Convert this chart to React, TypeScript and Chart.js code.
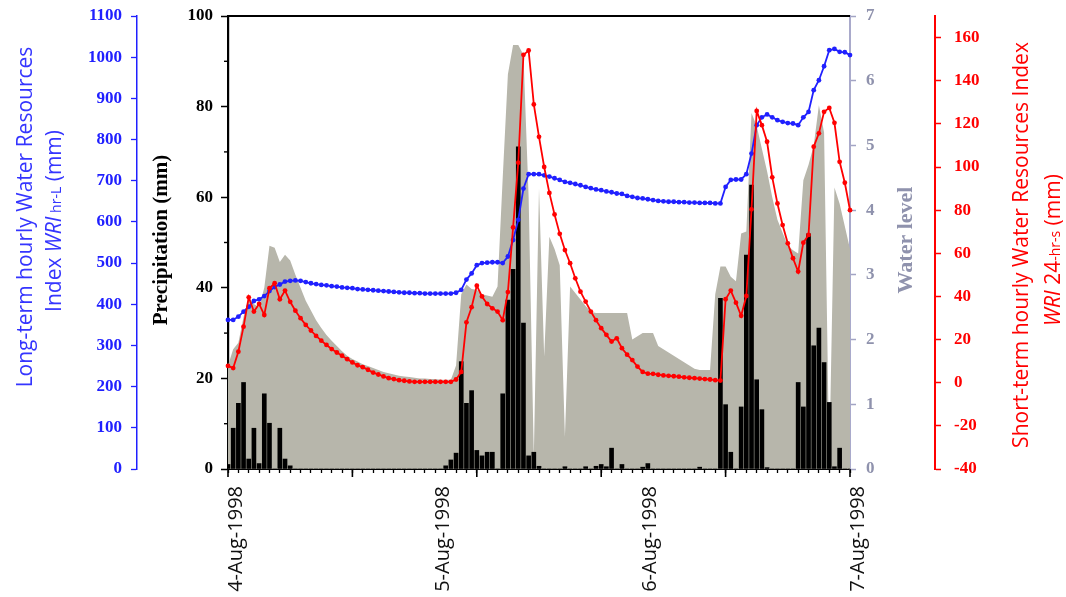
import React, { useEffect, useRef } from 'react';
import { Chart, registerables } from 'chart.js';

Chart.register(...registerables);

// time index (data step), 121 samples from 4-Aug-1998 to 7-Aug-1998
const timeIndex: number[] = Array.from({ length: 121 }, (_, i) => i);

const dateLabels = ['4-Aug-1998', '5-Aug-1998', '6-Aug-1998', '7-Aug-1998'];
const dateTickPositions = [0, 40, 80, 120];

// Precipitation (mm)
const precipitation = [
  1.0, 9.0, 14.5, 19.1, 2.2, 9.0, 1.2, 16.6, 10.1, 0, // 0-9
  9.0, 2.2, 0.7, 0, 0, 0, 0, 0, 0, 0, // 10-19
  0, 0, 0, 0, 0, 0, 0, 0, 0, 0, // 20-29
  0, 0, 0, 0, 0, 0, 0, 0, 0, 0, // 30-39
  0, 0, 0.7, 2.0, 3.5, 23.7, 14.5, 17.3, 4.1, 2.9, // 40-49
  3.7, 3.7, 0, 16.6, 37.3, 44.1, 71.1, 32.2, 2.9, 3.7, // 50-59
  0.6, 0, 0, 0, 0, 0.5, 0, 0, 0, 0.5, // 60-69
  0, 0.6, 1.0, 0.5, 4.6, 0, 1.0, 0, 0, 0, // 70-79
  0.4, 1.2, 0, 0, 0, 0, 0, 0, 0, 0, // 80-89
  0, 0.4, 0, 0, 0, 37.7, 14.2, 3.7, 0, 13.7, // 90-99
  47.2, 62.7, 19.7, 13.1, 0.3, 0, 0, 0, 0, 0, // 100-109
  19.1, 13.7, 51.9, 27.2, 31.1, 23.5, 14.7, 0.5, 4.6, 0, // 110-119
  0, // 120
];

// Water level
const waterLevel = [
  1.6, 1.85, 1.95, 2.35, 2.65, 2.55, 2.5, 2.8, 3.45, 3.42, // 0-9
  3.2, 3.31, 3.22, 3.0, 2.8, 2.6, 2.45, 2.3, 2.18, 2.07, // 10-19
  1.98, 1.9, 1.82, 1.75, 1.7, 1.66, 1.62, 1.59, 1.56, 1.53, // 20-29
  1.5, 1.48, 1.46, 1.44, 1.43, 1.42, 1.41, 1.4, 1.4, 1.39, // 30-39
  1.39, 1.38, 1.38, 1.38, 1.6, 2.7, 2.85, 2.78, 2.77, 2.7, // 40-49
  2.68, 2.66, 2.82, 4.5, 6.1, 6.55, 6.55, 6.4, 4.2, 0.2, // 50-59
  4.34, 1.74, 3.59, 3.4, 3.15, 0.5, 2.82, 2.72, 2.62, 2.52, // 60-69
  2.43, 2.41, 2.41, 2.41, 2.41, 2.41, 2.41, 2.41, 2.0, 2.05, // 70-79
  2.1, 2.1, 2.1, 1.9, 1.85, 1.8, 1.75, 1.7, 1.65, 1.6, // 80-89
  1.55, 1.53, 1.53, 1.53, 2.7, 3.13, 3.13, 2.97, 2.9, 3.64, // 90-99
  3.67, 5.5, 5.3, 4.95, 4.6, 4.2, 3.85, 3.65, 3.45, 3.38, // 100-109
  3.33, 4.46, 4.7, 5.0, 5.62, 5.2, 0.1, 4.35, 4.1, 3.75, // 110-119
  3.4, // 120
];

// Long-term hourly WRI hr-L (mm)
const wriLong = [
  362, 362, 370, 382, 394, 408, 412, 420, 432, 442, // 0-9
  448, 455, 457, 458, 457, 454, 451, 449, 447, 446, // 10-19
  444, 443, 441, 440, 439, 437, 436, 435, 434, 433, // 20-29
  432, 431, 430, 429, 428, 428, 427, 427, 426, 426, // 30-39
  426, 426, 426, 426, 428, 435, 460, 475, 495, 500, // 40-49
  501, 502, 502, 500, 516, 556, 605, 681, 716, 716, // 50-59
  716, 713, 710, 706, 702, 697, 695, 692, 689, 685, // 60-69
  682, 679, 677, 674, 672, 669, 668, 663, 661, 658, // 70-79
  657, 655, 653, 651, 650, 649, 649, 648, 648, 647, // 80-89
  647, 646, 646, 646, 645, 645, 685, 702, 703, 703, // 90-99
  716, 766, 835, 854, 861, 854, 847, 843, 840, 839, // 100-109
  835, 854, 867, 920, 944, 978, 1017, 1020, 1013, 1012, // 110-119
  1005, // 120
];

// Short-term hourly WRI 24-hr-s (mm)
const wriShort = [
  7.8, 6.8, 14.4, 26.0, 39.6, 33.0, 36.5, 31.4, 43.8, 46.1, // 0-9
  38.7, 42.7, 37.5, 33.4, 29.9, 26.8, 24.2, 21.7, 19.5, 17.5, // 10-19
  15.6, 14.0, 12.5, 10.9, 9.4, 8.1, 7.2, 6.0, 4.7, 3.8, // 20-29
  2.9, 2.1, 1.7, 1.2, 0.9, 0.6, 0.4, 0.4, 0.4, 0.4, // 30-39
  0.4, 0.4, 0.4, 0.4, 1.5, 5.0, 28.0, 35.0, 45.0, 40.0, // 40-49
  36.5, 34.5, 33.0, 29.0, 42.0, 72.0, 102.0, 152.0, 154.0, 129.0, // 50-59
  114.0, 100.0, 88.0, 78.0, 69.0, 61.5, 55.4, 48.4, 42.2, 37.6, // 60-69
  33.0, 29.0, 25.3, 22.2, 19.1, 20.6, 16.0, 13.0, 10.5, 7.5, // 70-79
  5.0, 4.2, 4.1, 3.7, 3.4, 3.2, 3.0, 2.8, 2.5, 2.3, // 80-89
  2.1, 1.9, 1.7, 1.5, 1.2, 1.0, 38.7, 42.7, 37.1, 31.0, // 90-99
  40.2, 80.4, 126.0, 119.4, 111.7, 95.2, 83.1, 73.1, 64.6, 57.7, // 100-109
  51.5, 64.9, 68.5, 109.4, 115.6, 125.6, 127.4, 120.5, 102.4, 92.7, // 110-119
  80.0, // 120
];

const BLUE = '#2020ff';
const RED = '#ff0000';
const WL_COLOR = '#8f92ad';
const GRAY_FILL = '#b7b6ab';
const SERIF = '"Liberation Serif", "Times New Roman", serif';
const SANS = '"Open Sans", "Noto Sans", sans-serif';

type Seg = { text: string; font: string };

function drawVertical(ctx: CanvasRenderingContext2D, segs: Seg[], cx: number, cy: number, color: string, baseShift: number) {
  ctx.save();
  ctx.fillStyle = color;
  ctx.textBaseline = 'alphabetic';
  ctx.textAlign = 'left';
  let total = 0;
  const widths = segs.map((s) => {
    ctx.font = s.font;
    const w = ctx.measureText(s.text).width;
    total += w;
    return w;
  });
  ctx.translate(cx, cy);
  ctx.rotate(-Math.PI / 2);
  let x = -total / 2;
  segs.forEach((s, i) => {
    ctx.font = s.font;
    ctx.fillText(s.text, x, baseShift);
    x += widths[i];
  });
  ctx.restore();
}

const decorPlugin = {
  id: 'decor',
  afterDraw(chart: any) {
    const ctx: CanvasRenderingContext2D = chart.ctx;
    const ca = chart.chartArea;
    const { x, yP } = chart.scales;
    ctx.save();
    // top frame
    ctx.strokeStyle = '#000';
    ctx.lineWidth = 2;
    ctx.beginPath();
    ctx.moveTo(ca.left - 1, ca.top);
    ctx.lineTo(ca.right, ca.top);
    ctx.stroke();
    // major x ticks
    ctx.lineWidth = 1.6;
    for (let v = 0; v <= 120; v += 24) {
      const px = x.getPixelForValue(v);
      ctx.beginPath();
      ctx.moveTo(px, ca.bottom);
      ctx.lineTo(px, ca.bottom + 8);
      ctx.stroke();
    }
    // precipitation minor ticks
    ctx.lineWidth = 1.4;
    for (let v = 10; v < 100; v += 20) {
      const py = yP.getPixelForValue(v);
      ctx.beginPath();
      ctx.moveTo(yP.right - 4, py);
      ctx.lineTo(yP.right, py);
      ctx.stroke();
    }
    ctx.restore();

    const f21 = `21px ${SANS}`;
    const f21i = `italic 21px ${SANS}`;
    const f14 = `14px ${SANS}`;
    // left blue title
    drawVertical(ctx, [{ text: 'Long-term hourly Water Resources', font: f21 }], 25, 217, '#3535ff', 7);
    drawVertical(
      ctx,
      [
        { text: 'Index ', font: f21 },
        { text: 'WRI', font: f21i },
        { text: ' hr-L', font: f14 },
        { text: ' (mm)', font: f21 },
      ],
      54,
      221,
      '#3535ff',
      7
    );
    // precipitation title
    drawVertical(ctx, [{ text: 'Precipitation (mm)', font: `bold 21px ${SERIF}` }], 160, 240, '#000', 7);
    // water level title
    drawVertical(ctx, [{ text: 'Water level', font: `bold 22px ${SERIF}` }], 905, 240, WL_COLOR, 7);
    // right red title
    drawVertical(ctx, [{ text: 'Short-term hourly Water Resources Index', font: f21 }], 1021, 245, RED, 7);
    drawVertical(
      ctx,
      [
        { text: 'WRI', font: f21i },
        { text: ' 24', font: f21 },
        { text: '-hr-s', font: f14 },
        { text: ' (mm)', font: f21 },
      ],
      1053,
      250,
      RED,
      7
    );
  },
};

const noPadV = (w: number) => (s: any) => {
  s.width = w;
  s.paddingTop = 0;
  s.paddingBottom = 0;
};

export default function App() {
  const ref = useRef<HTMLCanvasElement>(null);

  useEffect(() => {
    if (!ref.current) return;
    const chart = new Chart(ref.current, {
      type: 'line',
      data: {
        labels: timeIndex,
        datasets: [
          {
            type: 'line',
            label: 'Short-term WRI',
            data: wriShort,
            yAxisID: 'yR',
            borderColor: RED,
            backgroundColor: RED,
            borderWidth: 1.8,
            pointRadius: 2.4,
            pointBorderWidth: 0,
            pointBackgroundColor: RED,
            tension: 0,
            fill: false,
            order: 1,
            clip: false,
          },
          {
            type: 'line',
            label: 'Long-term WRI',
            data: wriLong,
            yAxisID: 'yB',
            borderColor: BLUE,
            backgroundColor: BLUE,
            borderWidth: 1.8,
            pointRadius: 2.4,
            pointBorderWidth: 0,
            pointBackgroundColor: BLUE,
            tension: 0,
            fill: false,
            order: 2,
            clip: false,
          },
          {
            type: 'bar',
            label: 'Precipitation',
            data: precipitation,
            yAxisID: 'yP',
            backgroundColor: '#000',
            borderWidth: 0,
            barThickness: 4,
            order: 3,
          },
          {
            type: 'line',
            label: 'Water level',
            data: waterLevel,
            yAxisID: 'yW',
            borderColor: GRAY_FILL,
            backgroundColor: GRAY_FILL,
            borderWidth: 0,
            pointRadius: 0,
            tension: 0,
            fill: 'origin',
            order: 4,
          },
        ] as any,
      },
      options: {
        responsive: false,
        devicePixelRatio: 1,
        animation: false,
        layout: { padding: { top: 16, left: 0, right: 0, bottom: 0 } },
        plugins: {
          legend: { display: false },
          tooltip: { enabled: false },
          title: { display: false },
        },
        scales: {
          x: {
            type: 'linear',
            min: 0,
            max: 120,
            offset: false,
            position: 'bottom',
            afterFit: (s: any) => {
              s.height = 128;
              s.paddingLeft = 0;
              s.paddingRight = 0;
            },
            grid: { drawOnChartArea: false, offset: false, tickLength: 4, tickColor: '#000', tickWidth: 1.3 },
            border: { color: '#000', width: 2 },
            ticks: {
              stepSize: 2,
              maxTicksLimit: 1000,
              autoSkip: false,
              minRotation: 90,
              maxRotation: 90,
              padding: 13,
              labelOffset: 8,
              color: '#111',
              font: { family: SANS, size: 20 },
              callback: (v: any) => {
                const k = dateTickPositions.indexOf(Number(v));
                return k >= 0 ? dateLabels[k] : '';
              },
            },
          },
          yB: {
            type: 'linear',
            position: 'left',
            weight: 2,
            min: 0,
            max: 1100,
            afterFit: noPadV(137),
            grid: { drawOnChartArea: false, tickLength: 6, tickColor: BLUE, tickWidth: 1.3 },
            border: { color: BLUE, width: 1.5 },
            ticks: {
              stepSize: 100,
              maxTicksLimit: 100,
              padding: 9,
              color: BLUE,
              font: { family: SERIF, size: 17, weight: 'bold' },
              callback: (v: any) => String(v),
            },
          },
          yP: {
            type: 'linear',
            position: 'left',
            weight: 1,
            min: 0,
            max: 100,
            afterFit: noPadV(91),
            grid: { drawOnChartArea: false, tickLength: 7, tickColor: '#000', tickWidth: 1.5 },
            border: { color: '#000', width: 2.2 },
            ticks: {
              stepSize: 20,
              maxTicksLimit: 100,
              padding: 8,
              color: '#000',
              font: { family: SERIF, size: 17, weight: 'bold' },
              callback: (v: any) => String(v),
            },
          },
          yW: {
            type: 'linear',
            position: 'right',
            weight: 1,
            min: 0,
            max: 7,
            afterFit: noPadV(85),
            grid: { drawOnChartArea: false, tickLength: 6, tickColor: '#a3a4c4', tickWidth: 1.5 },
            border: { color: '#a9aacb', width: 2 },
            ticks: {
              stepSize: 1,
              maxTicksLimit: 100,
              padding: 10,
              color: WL_COLOR,
              font: { family: SERIF, size: 17, weight: 'bold' },
              callback: (v: any) => String(v),
            },
          },
          yR: {
            type: 'linear',
            position: 'right',
            weight: 2,
            min: -40,
            max: 170,
            afterFit: noPadV(131),
            grid: { drawOnChartArea: false, tickLength: 6, tickColor: RED, tickWidth: 1.5 },
            border: { color: RED, width: 2 },
            ticks: {
              stepSize: 10,
              maxTicksLimit: 100,
              padding: 13,
              color: RED,
              font: { family: SERIF, size: 17, weight: 'bold' },
              callback: (v: any) => {
                const n = Number(v);
                return n % 20 === 0 && n <= 160 ? String(n) : '';
              },
            },
          },
        },
      } as any,
      plugins: [decorPlugin],
    });
    return () => chart.destroy();
  }, []);

  return (
    <div style={{ position: 'fixed', left: 0, top: 0, width: 1066, height: 597, background: '#fff' }}>
      <canvas ref={ref} width={1066} height={597} style={{ display: 'block', width: 1066, height: 597 }} />
    </div>
  );
}
